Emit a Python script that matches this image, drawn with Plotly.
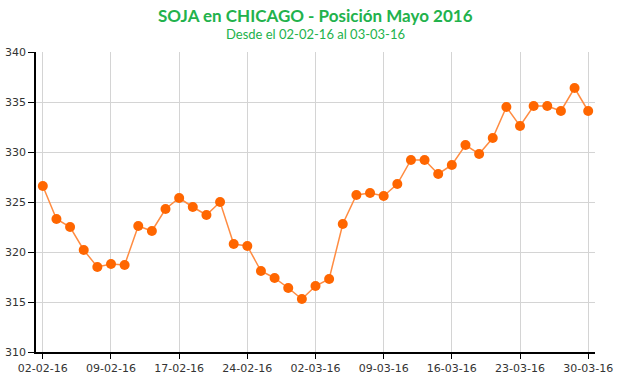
import plotly.graph_objects as go

dates = ["02-02-16","03-02-16","04-02-16","05-02-16","08-02-16","09-02-16","10-02-16","11-02-16","12-02-16","16-02-16",
         "17-02-16","18-02-16","19-02-16","22-02-16","23-02-16","24-02-16","25-02-16","26-02-16","29-02-16","01-03-16",
         "02-03-16","03-03-16","04-03-16","07-03-16","08-03-16","09-03-16","10-03-16","11-03-16","14-03-16","15-03-16",
         "16-03-16","17-03-16","18-03-16","21-03-16","22-03-16","23-03-16","24-03-16","25-03-16","28-03-16","29-03-16",
         "30-03-16"]
prices = [326.6, 323.3, 322.5, 320.2, 318.5, 318.8, 318.7, 322.6, 322.1, 324.3,
          325.4, 324.5, 323.7, 325.0, 320.8, 320.6, 318.1, 317.4, 316.4, 315.3,
          316.6, 317.3, 322.8, 325.7, 325.9, 325.6, 326.8, 329.2, 329.2, 327.8,
          328.7, 330.7, 329.8, 331.4, 334.5, 332.6, 334.6, 334.6, 334.1, 336.4,
          334.1]
tick_labels = dates[::5]
y_ticks = [310, 315, 320, 325, 330, 335, 340]

title = "SOJA en CHICAGO - Posición Mayo 2016"
subtitle = "Desde el 02-02-16 al 03-03-16"

idx = list(range(len(dates)))

fig = go.Figure()
fig.add_trace(go.Scatter(
    x=idx, y=prices, mode="lines+markers",
    line=dict(color="#ff8c42", width=1.5),
    marker=dict(color="#ff6600", size=10),
    text=dates, hovertemplate="%{text}: %{y}<extra></extra>",
))

fig.update_layout(
    width=620, height=375,
    margin=dict(l=36, r=25, t=52, b=23),
    paper_bgcolor="white", plot_bgcolor="white",
    showlegend=False,
    font=dict(family="DejaVu Sans", size=11, color="#333333"),
    annotations=[
        dict(text="<b>" + title + "</b>", xref="paper", yref="paper", x=0.5, y=1, xanchor="center",
             yanchor="middle", yshift=37, showarrow=False,
             font=dict(family="Lato", size=17, color="#22b24c")),
        dict(text=subtitle, xref="paper", yref="paper", x=0.5, y=1, xanchor="center",
             yanchor="middle", yshift=18, showarrow=False,
             font=dict(family="Lato", size=13, color="#22b24c")),
    ],
)
fig.update_xaxes(
    range=[-0.5, len(dates) - 0.5], automargin=False,
    tickmode="array", tickvals=idx[::5], ticktext=tick_labels,
    showgrid=True, gridcolor="#d4d4d4", gridwidth=1,
    showline=True, linecolor="#000000", linewidth=1.5,
    ticks="outside", ticklen=5, tickcolor="#000000",
    zeroline=False, tickfont=dict(size=11, color="#333333"),
)
fig.update_yaxes(
    range=[310, 340], tickvals=y_ticks, automargin=False,
    showgrid=True, gridcolor="#d4d4d4", gridwidth=1,
    showline=True, linecolor="#000000", linewidth=1.5,
    ticks="outside", ticklen=6, tickcolor="#000000",
    zeroline=False, tickfont=dict(size=11, color="#333333"),
)

fig.write_html("out.html", config={"displayModeBar": False},
               post_script="document.body.style.margin='0px';")
